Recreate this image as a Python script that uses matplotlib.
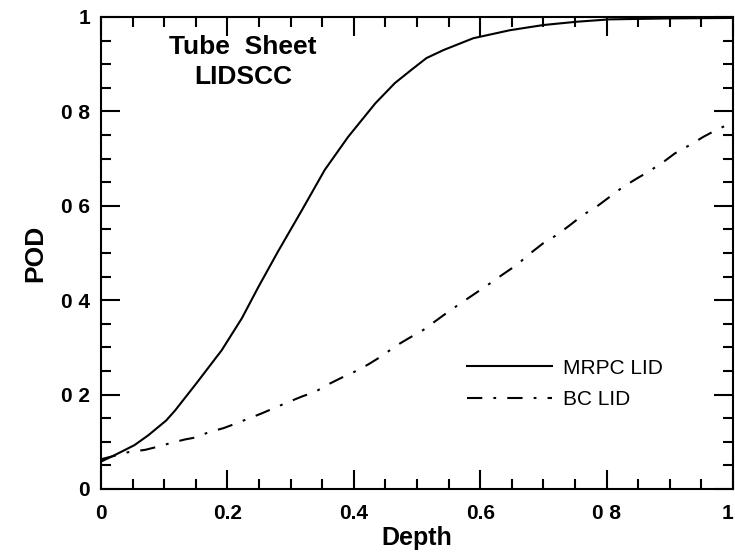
import numpy as np
import matplotlib as mpl
mpl.use('Agg')
import matplotlib.pyplot as plt
from matplotlib.ticker import MultipleLocator, FixedLocator, FixedFormatter

# values
mrpc_depth = [0.0, 0.022, 0.053, 0.075, 0.103, 0.117, 0.151, 0.191, 0.223, 0.249, 0.28,
              0.318, 0.354, 0.391, 0.434, 0.465, 0.492, 0.515, 0.542, 0.589, 0.647,
              0.700, 0.753, 0.805, 0.9, 1.0]
mrpc_pod = [0.058, 0.072, 0.093, 0.114, 0.145, 0.166, 0.224, 0.294, 0.362, 0.428, 0.503,
            0.591, 0.676, 0.746, 0.817, 0.860, 0.889, 0.913, 0.930, 0.955, 0.972,
            0.983, 0.990, 0.995, 0.997, 0.998]

bc_depth = [0.0, 0.043, 0.070, 0.085, 0.112, 0.133, 0.149, 0.170, 0.194, 0.212, 0.254,
            0.273, 0.296, 0.318, 0.339, 0.360, 0.381, 0.402, 0.423, 0.447, 0.465, 0.489,
            0.510, 0.550, 0.573, 0.616, 0.634, 0.658, 0.679, 0.700, 0.721, 0.742, 0.763,
            0.784, 0.805, 0.826, 0.848, 0.866, 0.890, 0.908, 0.932, 0.953, 0.974, 1.0]
bc_pod = [0.063, 0.078, 0.083, 0.088, 0.098, 0.105, 0.109, 0.120, 0.129, 0.138, 0.160,
          0.171, 0.184, 0.196, 0.206, 0.222, 0.236, 0.249, 0.264, 0.284, 0.302, 0.321,
          0.337, 0.376, 0.397, 0.436, 0.453, 0.475, 0.499, 0.521, 0.538, 0.559, 0.581,
          0.598, 0.619, 0.640, 0.658, 0.672, 0.693, 0.711, 0.729, 0.746, 0.761, 0.777]

xtick_vals = [0, 0.2, 0.4, 0.6, 0.8, 1.0]
xtick_text = ['0', '0.2', '0.4', '0.6', '0 8', '1']
ytick_vals = [0, 0.2, 0.4, 0.6, 0.8, 1.0]
ytick_text = ['0', '0 2', '0 4', '0 6', '0 8', '1']

plt.rcParams['font.family'] = ['Liberation Sans', 'DejaVu Sans']
plt.rcParams['lines.scale_dashes'] = False

fig = plt.figure(figsize=(7.35, 5.58), dpi=100)
ax = fig.add_axes([101/735, 69/558, 632/735, 472/558])

ax.plot(mrpc_depth, mrpc_pod, color='black', lw=1.5, label='MRPC LID')
ax.plot(bc_depth, bc_pod, color='black', lw=1.5, label='BC LID',
        linestyle=(0, (11, 8, 2, 8)))

ax.set_xlim(0, 1)
ax.set_ylim(0, 1)
ax.xaxis.set_major_locator(FixedLocator(xtick_vals))
ax.xaxis.set_major_formatter(FixedFormatter(xtick_text))
ax.yaxis.set_major_locator(FixedLocator(ytick_vals))
ax.yaxis.set_major_formatter(FixedFormatter(ytick_text))
ax.xaxis.set_minor_locator(MultipleLocator(0.05))
ax.yaxis.set_minor_locator(MultipleLocator(0.05))
ax.tick_params(axis='both', which='both', direction='in', top=True, right=True, width=1.5)
ax.tick_params(axis='both', which='major', length=14)
ax.tick_params(axis='both', which='minor', length=7)
ax.tick_params(axis='x', which='major', pad=11, labelsize=15)
ax.tick_params(axis='y', which='major', pad=8, labelsize=15)
for lab in ax.get_xticklabels() + ax.get_yticklabels():
    lab.set_fontweight('bold')
# the last x label sits on the figure edge
ax.get_xticklabels()[-1].set_horizontalalignment('right')
for sp in ax.spines.values():
    sp.set_linewidth(1.5)

ax.set_xlabel('Depth', fontsize=18, fontweight='bold', labelpad=2)
ax.set_ylabel('POD', fontsize=19, fontweight='bold', labelpad=10)

ax.text(0.225, 0.905, 'Tube  Sheet\nLIDSCC', fontsize=19, fontweight='bold',
        ha='center', va='center', linespacing=1.3, transform=ax.transAxes)

ax.legend(loc='upper left', bbox_to_anchor=(0.579, 0.276), frameon=False, fontsize=15,
          handlelength=4.1, handletextpad=0.5, labelspacing=0.6, borderpad=0,
          borderaxespad=0)

fig.savefig('out.png', dpi=100)
